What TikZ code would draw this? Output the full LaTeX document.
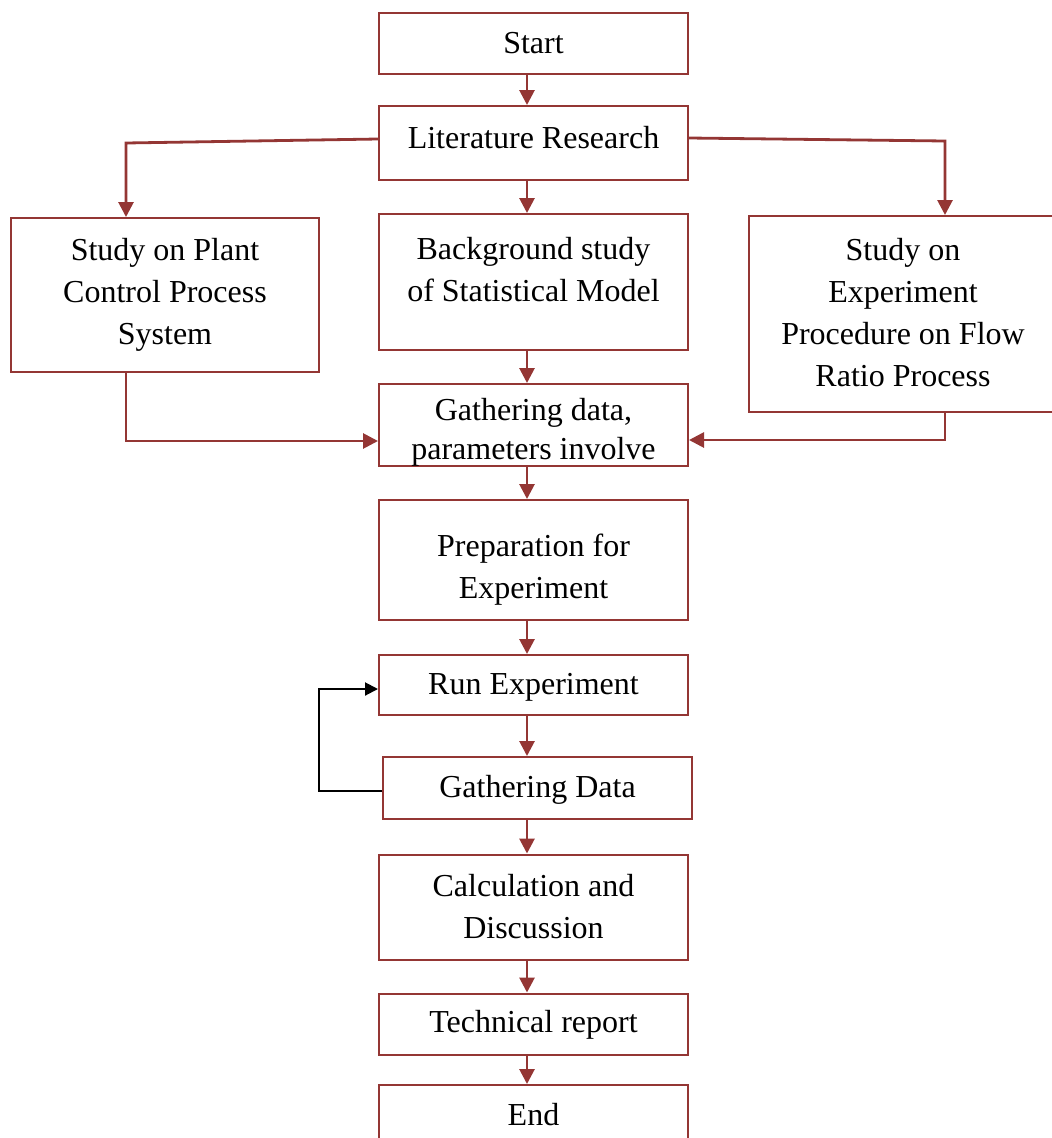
\documentclass[tikz,border=0pt]{standalone}
\usepackage{fontspec}
\setmainfont{Liberation Serif}
\usetikzlibrary{arrows.meta}
\definecolor{dred}{RGB}{148,54,52}
\tikzset{
  box/.style={draw=dred, line width=2pt, inner sep=0pt, minimum width=309pt},
  txt/.style={font=\fontsize{32}{42}\selectfont, align=center, inner sep=0pt, text=black},
  arr/.style={draw=dred, line width=2.8pt, -{Triangle[length=15pt,width=15pt]}},
  farr/.style={draw=black, line width=2pt, -{Triangle[length=13pt,width=13pt]}}
}
\begin{document}
\begin{tikzpicture}[x=1pt,y=-1pt]
\useasboundingbox (0,0) rectangle (1052,1138);
\fill[white] (0,0) rectangle (1052,1138);
\clip (0,0) rectangle (1052,1138);
% boxes
\node[box, minimum height=61pt] (start) at (533.5,43) {};
\node[box, minimum height=74pt] (lit) at (533.5,143) {};
\node[box, minimum width=308pt, minimum height=154pt] (plant) at (165,295) {};
\node[box, minimum height=136pt] (bg) at (533.5,282) {};
\node[box, minimum width=308pt, minimum height=196pt] (exp) at (903,314) {};
\node[box, minimum height=82pt] (gath) at (533.5,425) {};
\node[box, minimum height=120pt] (prep) at (533.5,560) {};
\node[box, minimum height=60pt] (run) at (533.5,685) {};
\node[box, minimum height=62pt] (gd) at (537.5,788) {};
\node[box, minimum height=105pt] (calc) at (533.5,907) {};
\node[box, minimum height=61pt] (tech) at (533.5,1024) {};
\node[box, minimum height=66pt] (end) at (533.5,1118) {};
% texts
\node[txt] (startT) at (533.5,43) {Start};
\node[txt] (litT) at (533.5,138) {Literature Research};
\node[txt] (plantT) at (165,295) {Study on Plant\\Control Process\\System};
\node[txt] (bgT) at (533.5,270) {Background study\\of Statistical Model};
\node[txt] (expT) at (903,313) {Study on\\Experiment\\Procedure on Flow\\Ratio Process};
\node[txt, font=\fontsize{32}{39}\selectfont] (gathT) at (533.5,432) {Gathering data,\\parameters involve};
\node[txt] (prepT) at (533.5,570) {Preparation for\\Experiment};
\node[txt] (runT) at (533.5,687) {Run Experiment};
\node[txt] (gdT) at (537.5,790) {Gathering Data};
\node[txt] (calcT) at (533.5,907) {Calculation and\\Discussion};
\node[txt] (techT) at (533.5,1025) {Technical report};
\node[txt] (endT) at (533.5,1115) {End};
% helper coordinates
\coordinate (ax) at (527,0);
\coordinate (lturn) at (126,143);
\coordinate (rturn) at (945,141);
\coordinate (fb) at (319,0);
\coordinate (fbin) at ([yshift=-4pt]run.west);
\coordinate (fbout) at ([yshift=-3pt]gd.west);
% vertical arrows
\draw[arr] (start.south -| ax) -- (lit.north -| ax);
\draw[arr] (lit.south -| ax) -- (bg.north -| ax);
\draw[arr] (bg.south -| ax) -- (gath.north -| ax);
\draw[arr] (gath.south -| ax) -- (prep.north -| ax);
\draw[arr] (prep.south -| ax) -- (run.north -| ax);
\draw[arr] (run.south -| ax) -- (gd.north -| ax);
\draw[arr] (gd.south -| ax) -- (calc.north -| ax);
\draw[arr] (calc.south -| ax) -- (tech.north -| ax);
\draw[arr] (tech.south -| ax) -- (end.north -| ax);
% branches
\draw[arr] ([yshift=4pt]lit.west) -- (lturn) -- (lturn |- plant.north);
\draw[arr] ([yshift=5pt]lit.east) -- (rturn) -- (rturn |- exp.north);
\draw[arr] (lturn |- plant.south) |- ([yshift=-16pt]gath.west);
\draw[arr] (rturn |- exp.south) |- ([yshift=-15pt]gath.east);
% feedback loop
\draw[farr] (fbout) -| (fb |- fbin) -- (fbin);
\end{tikzpicture}
\end{document}
